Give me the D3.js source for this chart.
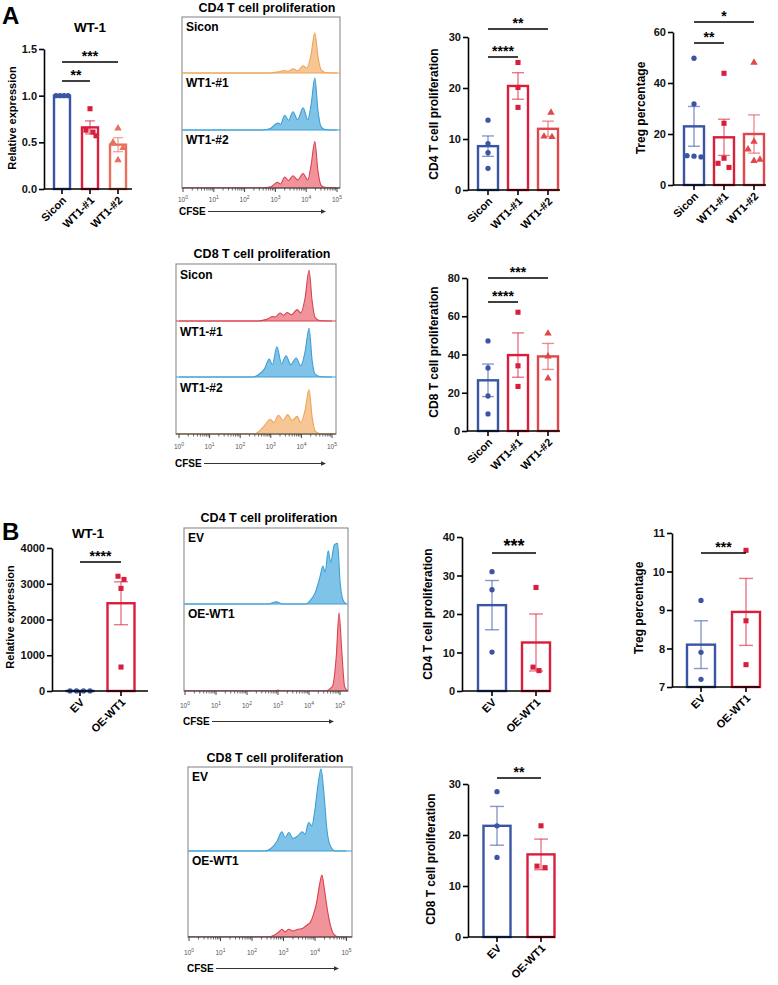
<!DOCTYPE html>
<html><head><meta charset="utf-8">
<script src="https://cdn.jsdelivr.net/npm/d3@7"></script>
<style>body{margin:0;background:#fff} svg{display:block} text{font-family:"Liberation Sans",Arial,sans-serif}</style>
</head><body><svg id="c" width="778" height="985"></svg>
<script>
// ---------------- DATA ----------------
const A_groups = ["Sicon","WT1-#1","WT1-#2"];
const B_groups = ["EV","OE-WT1"];

const A_wt1_mean = [1.0, 0.66, 0.475];
const A_wt1_sem  = [0, 0.07, 0.075];
const A_wt1_pts  = [[1,1,1,1],[0.86,0.63,0.61,0.57],[0.65,0.50,0.44,0.31]];
const A_wt1_ticks = [0,0.5,1.0,1.5];

const A_cd4_mean = [8.6, 20.4, 12.0];
const A_cd4_sem  = [2.0, 2.6, 1.5];
const A_cd4_pts  = [[13.7,9.1,7.3,4.25],[25,20.1,16.2],[15.2,10.5,10.4]];
const A_cd4_ticks = [0,10,20,30];

const A_treg_mean = [23.0, 18.7, 20.0];
const A_treg_sem  = [7.8, 7.1, 7.5];
const A_treg_pts  = [[49.7,31.8,11.5,11.3,11.0],[43.8,24.2,10.5,8.5,6.9],[48,17,14,10,9.5]];
const A_treg_ticks = [0,20,40,60];

const A_cd8_mean = [26.5, 39.7, 39.0];
const A_cd8_sem  = [8.5, 11.6, 6.8];
const A_cd8_pts  = [[47.1,33,18.3,8.9],[62.1,34.1,23.3],[51,39,27.5]];
const A_cd8_ticks = [0,20,40,60,80];

const B_wt1_mean = [1, 2455];
const B_wt1_sem  = [0, 600];
const B_wt1_pts  = [[1,1,1,1],[3210,3120,2870,670]];
const B_wt1_ticks = [0,1000,2000,3000,4000];

const B_cd4_mean = [22.3, 12.6];
const B_cd4_sem  = [6.4, 7.4];
const B_cd4_pts  = [[31,26.3,10.1],[26.9,6.2,5.3]];
const B_cd4_ticks = [0,10,20,30,40];

const B_treg_mean = [8.1, 8.95];
const B_treg_sem  = [0.62, 0.87];
const B_treg_pts  = [[9.25,7.9,7.2],[10.55,8.72,7.58]];
const B_treg_ticks = [7,8,9,10,11];

const B_cd8_mean = [21.8, 16.2];
const B_cd8_sem  = [3.8, 3.0];
const B_cd8_pts  = [[28.5,21.8,15.6],[21.8,13.9,13.6]];
const B_cd8_ticks = [0,10,20,30];

// histograms: [log10 CFSE, fraction of lane height]
const logTicks = [0,1,2,3,4,5];
const H_A_cd4_labels = ["Sicon","WT1-#1","WT1-#2"];
const H_A_cd4_sicon = [[0,0],[2.8,0],[3.1,0.02],[3.3,0.045],[3.42,0.03],[3.57,0.075],[3.72,0.04],[3.9,0.13],[4.02,0.09],[4.15,0.3],[4.28,0.72],[4.38,0.3],[4.48,0.06],[4.62,0.01],[5,0]];
const H_A_cd4_wt1 = [[0,0],[2.6,0],[2.85,0.03],[3.0,0.1],[3.08,0.12],[3.17,0.1],[3.3,0.26],[3.43,0.17],[3.57,0.32],[3.72,0.18],[3.9,0.39],[4.05,0.18],[4.16,0.45],[4.28,0.91],[4.38,0.35],[4.48,0.06],[4.6,0.01],[5,0]];
const H_A_cd4_wt2 = [[0,0],[2.6,0],[2.85,0.02],[3.0,0.08],[3.06,0.1],[3.17,0.07],[3.3,0.19],[3.43,0.13],[3.57,0.21],[3.72,0.14],[3.9,0.25],[4.05,0.14],[4.16,0.4],[4.28,0.8],[4.38,0.3],[4.48,0.05],[4.6,0.01],[5,0]];

const H_A_cd8_labels = ["Sicon","WT1-#1","WT1-#2"];
const H_A_cd8_sicon = [[0,0],[2.6,0],[2.8,0.02],[2.95,0.05],[3.04,0.08],[3.15,0.07],[3.3,0.14],[3.42,0.1],[3.53,0.15],[3.68,0.11],[3.86,0.2],[3.98,0.14],[4.12,0.4],[4.25,0.89],[4.35,0.35],[4.45,0.06],[4.6,0.01],[5,0]];
const H_A_cd8_wt1 = [[0,0],[2.4,0],[2.6,0.04],[2.8,0.15],[2.95,0.32],[3.05,0.22],[3.2,0.54],[3.35,0.24],[3.5,0.38],[3.65,0.22],[3.83,0.34],[3.98,0.2],[4.12,0.45],[4.25,0.87],[4.35,0.3],[4.45,0.05],[4.6,0.01],[5,0]];
const H_A_cd8_wt2 = [[0,0],[2.45,0],[2.6,0.04],[2.8,0.15],[2.98,0.26],[3.1,0.2],[3.25,0.33],[3.4,0.24],[3.55,0.34],[3.7,0.24],[3.86,0.31],[3.98,0.2],[4.12,0.42],[4.25,0.78],[4.35,0.3],[4.45,0.05],[4.6,0.01],[5,0]];

const H_B_cd4_labels = ["EV","OE-WT1"];
const H_B_cd4_ev = [[0,0],[2.7,0],[2.95,0.03],[3.15,0],[3.9,0],[4.05,0.05],[4.2,0.15],[4.35,0.35],[4.45,0.5],[4.52,0.42],[4.62,0.7],[4.7,0.55],[4.82,0.78],[4.92,0.8],[5.0,0.3],[5.1,0.05],[5.2,0]];
const H_B_cd4_oe = [[0,0],[2.9,0],[3.0,0.01],[3.1,0],[4.5,0],[4.75,0.05],[4.88,0.4],[4.97,0.9],[5.05,0.5],[5.15,0.05],[5.25,0]];

const H_B_cd8_labels = ["EV","OE-WT1"];
const H_B_cd8_ev = [[0,0],[2.4,0],[2.6,0.03],[2.8,0.12],[2.95,0.23],[3.05,0.16],[3.17,0.22],[3.3,0.15],[3.45,0.18],[3.6,0.23],[3.68,0.2],[3.8,0.34],[3.9,0.3],[4.0,0.5],[4.1,0.8],[4.19,0.98],[4.28,0.7],[4.38,0.25],[4.5,0.05],[4.65,0],[5,0]];
const H_B_cd8_oe = [[0,0],[2.5,0],[2.7,0.02],[2.85,0.06],[2.95,0.09],[3.05,0.06],[3.17,0.09],[3.3,0.07],[3.46,0.09],[3.6,0.1],[3.75,0.14],[3.85,0.17],[3.95,0.26],[4.05,0.4],[4.15,0.62],[4.22,0.72],[4.3,0.55],[4.4,0.3],[4.5,0.12],[4.6,0.03],[4.75,0],[5,0]];

// ---------------- STYLE ----------------
const C = {blue:'#3b55a5', red:'#d91e3c', salmon:'#e8705e', red2:'#e0474c'};
const H = {
  orange:{fill:'#f6c08a', stroke:'#eea35a'},
  blue:{fill:'#72bde6', stroke:'#3c9fd3'},
  red:{fill:'#ee8790', stroke:'#d9414f'}
};
const svg = d3.select('#c');
const FONT = '"Liberation Sans",Arial,sans-serif';

function txt(g, x, y, s, size, opts={}){
  const t = g.append('text').attr('x',x).attr('y',y).text(s)
    .attr('font-size',size).attr('font-weight',opts.weight||'bold').attr('fill',opts.fill||'#000')
    .attr('text-anchor',opts.anchor||'start');
  if(opts.rotate!==undefined) t.attr('transform',`rotate(${opts.rotate},${x},${y})`);
  return t;
}

function barChart(o){
  const g = svg.append('g');
  const y = d3.scaleLinear().domain(o.domain).range(o.yr);
  const x = d3.scalePoint().domain(o.cats).range(o.xr);
  const base = y(o.domain[0]);
  const shapes = [d3.symbolCircle, d3.symbolSquare, d3.symbolTriangle];
  const sizes = [22, 26, 24];
  o.cats.forEach((c,i)=>{
    const cx = x(c), m = o.mean[i], s = o.sem[i], col = o.colors[i];
    g.append('rect').attr('x',cx-o.bw/2).attr('y',y(m)).attr('width',o.bw).attr('height',Math.max(0,base-y(m)))
      .attr('fill','#fff').attr('stroke',col).attr('stroke-width',2.4);
    if(s>0){
      const eb = g.append('g').attr('stroke',col).attr('stroke-opacity',0.6).attr('stroke-width',1.4);
      eb.append('line').attr('x1',cx).attr('x2',cx).attr('y1',y(m-s)).attr('y2',y(m+s));
      [m-s,m+s].forEach(v=>eb.append('line').attr('x1',cx-o.cap).attr('x2',cx+o.cap).attr('y1',y(v)).attr('y2',y(v)));
    }
    o.pts[i].forEach((v,j)=>{
      g.append('path').attr('d',d3.symbol(shapes[o.shapes[i]], sizes[o.shapes[i]])())
        .attr('transform',`translate(${cx+o.jit[i][j]},${y(v)})`).attr('fill',col);
    });
  });
  const ay = g.append('g').attr('transform',`translate(${o.x0},0)`)
    .call(d3.axisLeft(y).tickValues(o.ticks).tickFormat(o.fmt).tickSize(5).tickSizeOuter(0));
  ay.select('.domain').attr('stroke','#000').attr('stroke-width',1.6);
  ay.selectAll('.tick line').attr('stroke','#000').attr('stroke-width',1.6);
  ay.selectAll('.tick text').attr('font-size',11).attr('font-weight','bold').attr('font-family',FONT).attr('fill','#111').attr('x',-7);
  g.append('line').attr('x1',o.x0).attr('x2',o.xEnd).attr('y1',base).attr('y2',base).attr('stroke','#000').attr('stroke-width',1.6);
  o.cats.forEach(c=>{
    const cx = x(c);
    g.append('line').attr('x1',cx).attr('x2',cx).attr('y1',base).attr('y2',base+5).attr('stroke','#000').attr('stroke-width',1.6);
    txt(g, cx+5, base+12, c, 11, {anchor:'end', rotate:-45});
  });
  txt(g, o.ylab[0], o.ylab[1], o.ylab[2], o.ylabSize||12, {anchor:'middle', rotate:-90});
  if(o.title) txt(g, o.title[0], o.title[1], o.title[2], 13.5, {anchor:'middle'});
  (o.sig||[]).forEach(s=>{
    g.append('line').attr('x1',x(o.cats[s.a])).attr('x2',x(o.cats[s.b])).attr('y1',s.y).attr('y2',s.y).attr('stroke','#000').attr('stroke-width',1.5);
    txt(g, (x(o.cats[s.a])+x(o.cats[s.b]))/2, s.y-1+(s.dy||0), s.t, s.size||14, {anchor:'middle'});
  });
}

function histPanel(o){
  const g = svg.append('g');
  const x = d3.scaleLinear().domain([0,5]).range(o.xr);
  const clipId = 'clip'+Math.round(o.top);
  g.append('clipPath').attr('id',clipId).append('rect').attr('x',o.left).attr('y',o.top).attr('width',o.right-o.left).attr('height',o.bases[o.bases.length-1]-o.top);
  g.append('rect').attr('x',o.left).attr('y',o.top).attr('width',o.right-o.left).attr('height',o.bases[o.bases.length-1]-o.top)
    .attr('fill','none').attr('stroke','#8a8a8a').attr('stroke-width',1.1);
  o.curves.forEach((cv,i)=>{
    const b = o.bases[i], t = i===0?o.top:o.bases[i-1];
    const ys = d3.scaleLinear().domain([0,1]).range([b, t]);
    const col = H[o.colors[i]];
    const area = d3.area().x(d=>x(d[0])).y0(b).y1(d=>ys(d[1])).curve(d3.curveMonotoneX);
    const line = d3.line().x(d=>x(d[0])).y(d=>ys(d[1])).curve(d3.curveMonotoneX);
    const cg = g.append('g').attr('clip-path',`url(#${clipId})`);
    cg.append('path').attr('d',area(cv)).attr('fill',col.fill).attr('fill-opacity',0.9);
    cg.append('path').attr('d',line(cv)).attr('fill','none').attr('stroke',col.stroke).attr('stroke-width',1.1);
    cg.append('line').attr('x1',o.left).attr('x2',o.right).attr('y1',b).attr('y2',b).attr('stroke',col.stroke).attr('stroke-width',1.2);
    txt(g, o.left+4, t+o.labDy, o.labels[i], 12);
  });
  const ab = o.bases[o.bases.length-1];
  g.append('line').attr('x1',o.left).attr('x2',o.right).attr('y1',ab).attr('y2',ab).attr('stroke','#444').attr('stroke-width',1.2);
  logTicks.forEach(d=>{
    g.append('line').attr('x1',x(d)).attr('x2',x(d)).attr('y1',ab).attr('y2',ab+4).attr('stroke','#444').attr('stroke-width',1);
    const tt = g.append('text').attr('x',x(d)).attr('y',o.tickY).attr('text-anchor','middle').attr('font-size',6.5).attr('fill','#555');
    tt.append('tspan').text('10');
    tt.append('tspan').text(d).attr('dy',-3).attr('font-size',5);
    if(d<5) d3.range(2,10).forEach(k=>{
      const xv = x(d+Math.log10(k));
      g.append('line').attr('x1',xv).attr('x2',xv).attr('y1',ab).attr('y2',ab+2.5).attr('stroke','#444').attr('stroke-width',0.8);
    });
  });
  txt(g, o.title[0], o.title[1], o.title[2], 12.5, {anchor:'middle'});
  txt(g, o.cfse[0], o.cfse[1], 'CFSE', 10);
  const ly = o.cfse[1]-3.5;
  g.append('line').attr('x1',o.cfse[0]+29).attr('x2',o.arrow).attr('y1',ly).attr('y2',ly).attr('stroke','#333').attr('stroke-width',1);
  g.append('path').attr('d',`M${o.arrow+4},${ly} L${o.arrow-1},${ly-2.2} L${o.arrow-1},${ly+2.2} Z`).attr('fill','#333');
}

// ---------------- PANEL A ----------------
txt(svg, 2, 24, 'A', 24);
barChart({cats:A_groups, mean:A_wt1_mean, sem:A_wt1_sem, pts:A_wt1_pts, domain:[0,1.5], ticks:A_wt1_ticks, fmt:d3.format('.1f'),
  yr:[189,49], xr:[62,118], x0:44, xEnd:132, bw:16, cap:5, colors:[C.blue,C.red,C.salmon], shapes:[0,1,2],
  jit:[[-6,-2,2,6],[0,-4,3,6],[0,-5,5,0]], ylab:[16,118,'Relative expression'], ylabSize:11, title:[90,32,'WT-1'],
  sig:[{a:0,b:2,y:62,t:'***'},{a:0,b:1,y:81,t:'**'}]});

histPanel({left:182, top:17, right:340, bases:[73,130,188], xr:[183,337], curves:[H_A_cd4_sicon,H_A_cd4_wt1,H_A_cd4_wt2],
  colors:['orange','blue','red'], labels:H_A_cd4_labels, labDy:14, tickY:202, title:[267,12,'CD4 T cell proliferation'], cfse:[179,215], arrow:322});

barChart({cats:A_groups, mean:A_cd4_mean, sem:A_cd4_sem, pts:A_cd4_pts, domain:[0,30], ticks:A_cd4_ticks, fmt:d3.format('d'),
  yr:[190,37], xr:[488,548], x0:468, xEnd:560, bw:20, cap:6, colors:[C.blue,C.red,C.red2], shapes:[0,1,2],
  jit:[[0,0,0,0],[0,0,0],[3,-4,4]], ylab:[438,114,'CD4 T cell proliferation'],
  sig:[{a:0,b:2,y:29,t:'**'},{a:0,b:1,y:57,t:'****'}]});

barChart({cats:A_groups, mean:A_treg_mean, sem:A_treg_sem, pts:A_treg_pts, domain:[0,60], ticks:A_treg_ticks, fmt:d3.format('d'),
  yr:[185,32], xr:[694,754], x0:673, xEnd:766, bw:20, cap:6, colors:[C.blue,C.red,C.red2], shapes:[0,1,2],
  jit:[[0,0,-7,0,7],[0,0,0,-6,5],[0,0,-6,6,0]], ylab:[645,108,'Treg percentage'],
  sig:[{a:0,b:2,y:22,t:'*'},{a:0,b:1,y:43,t:'**'}]});

histPanel({left:176, top:264, right:336, bases:[321,377,434], xr:[179,332], curves:[H_A_cd8_sicon,H_A_cd8_wt1,H_A_cd8_wt2],
  colors:['red','blue','orange'], labels:H_A_cd8_labels, labDy:15, tickY:449, title:[262,258,'CD8 T cell proliferation'], cfse:[175,467], arrow:322});

barChart({cats:A_groups, mean:A_cd8_mean, sem:A_cd8_sem, pts:A_cd8_pts, domain:[0,80], ticks:A_cd8_ticks, fmt:d3.format('d'),
  yr:[431,278], xr:[488,548], x0:467, xEnd:560, bw:20, cap:6, colors:[C.blue,C.red,C.red2], shapes:[0,1,2],
  jit:[[0,0,0,0],[0,0,0],[0,0,0]], ylab:[438,352,'CD8 T cell proliferation'],
  sig:[{a:0,b:2,y:278,t:'***'},{a:0,b:1,y:302,t:'****'}]});

// ---------------- PANEL B ----------------
txt(svg, 2, 540, 'B', 24);
barChart({cats:B_groups, mean:B_wt1_mean, sem:B_wt1_sem, pts:B_wt1_pts, domain:[0,4000], ticks:B_wt1_ticks, fmt:d3.format('d'),
  yr:[691,548], xr:[80,121], x0:52, xEnd:148, bw:27, cap:7, colors:[C.blue,C.red], shapes:[0,1],
  jit:[[-10,-3.5,3.5,10],[-3,3,0,0]], ylab:[14,617,'Relative expression'], ylabSize:11, title:[88,538,'WT-1'],
  sig:[{a:0,b:1,y:562,t:'****'}]});

histPanel({left:184, top:528, right:348, bases:[604,691], xr:[185,340], curves:[H_B_cd4_ev,H_B_cd4_oe],
  colors:['blue','red'], labels:H_B_cd4_labels, labDy:14, tickY:708, title:[269,522,'CD4 T cell proliferation'], cfse:[183,725], arrow:330});

barChart({cats:B_groups, mean:B_cd4_mean, sem:B_cd4_sem, pts:B_cd4_pts, domain:[0,40], ticks:B_cd4_ticks, fmt:d3.format('d'),
  yr:[691,537], xr:[492,536], x0:462, xEnd:550, bw:28, cap:7, colors:[C.blue,C.red], shapes:[0,1],
  jit:[[0,0,0],[0,-3,3]], ylab:[432,614,'CD4 T cell proliferation'],
  sig:[{a:0,b:1,y:553,t:'***',size:18}]});

barChart({cats:B_groups, mean:B_treg_mean, sem:B_treg_sem, pts:B_treg_pts, domain:[7,11], ticks:B_treg_ticks, fmt:d3.format('d'),
  yr:[687,533], xr:[701,746], x0:672, xEnd:760, bw:28, cap:7, colors:[C.blue,C.red], shapes:[0,1],
  jit:[[0,0,0],[0,0,0]], ylab:[643,608,'Treg percentage'],
  sig:[{a:0,b:1,y:553,t:'***'}]});

histPanel({left:188, top:767, right:352, bases:[851,937], xr:[189,346.5], curves:[H_B_cd8_ev,H_B_cd8_oe],
  colors:['blue','red'], labels:H_B_cd8_labels, labDy:14, tickY:955, title:[275,762,'CD8 T cell proliferation'], cfse:[187,972], arrow:335});

barChart({cats:B_groups, mean:B_cd8_mean, sem:B_cd8_sem, pts:B_cd8_pts, domain:[0,30], ticks:B_cd8_ticks, fmt:d3.format('d'),
  yr:[937,784], xr:[497,541], x0:468, xEnd:555, bw:27, cap:7, colors:[C.blue,C.red], shapes:[0,1],
  jit:[[0,0,0],[0,-4,4]], ylab:[435,859,'CD8 T cell proliferation'],
  sig:[{a:0,b:1,y:778,t:'**'}]});
</script></body></html>
